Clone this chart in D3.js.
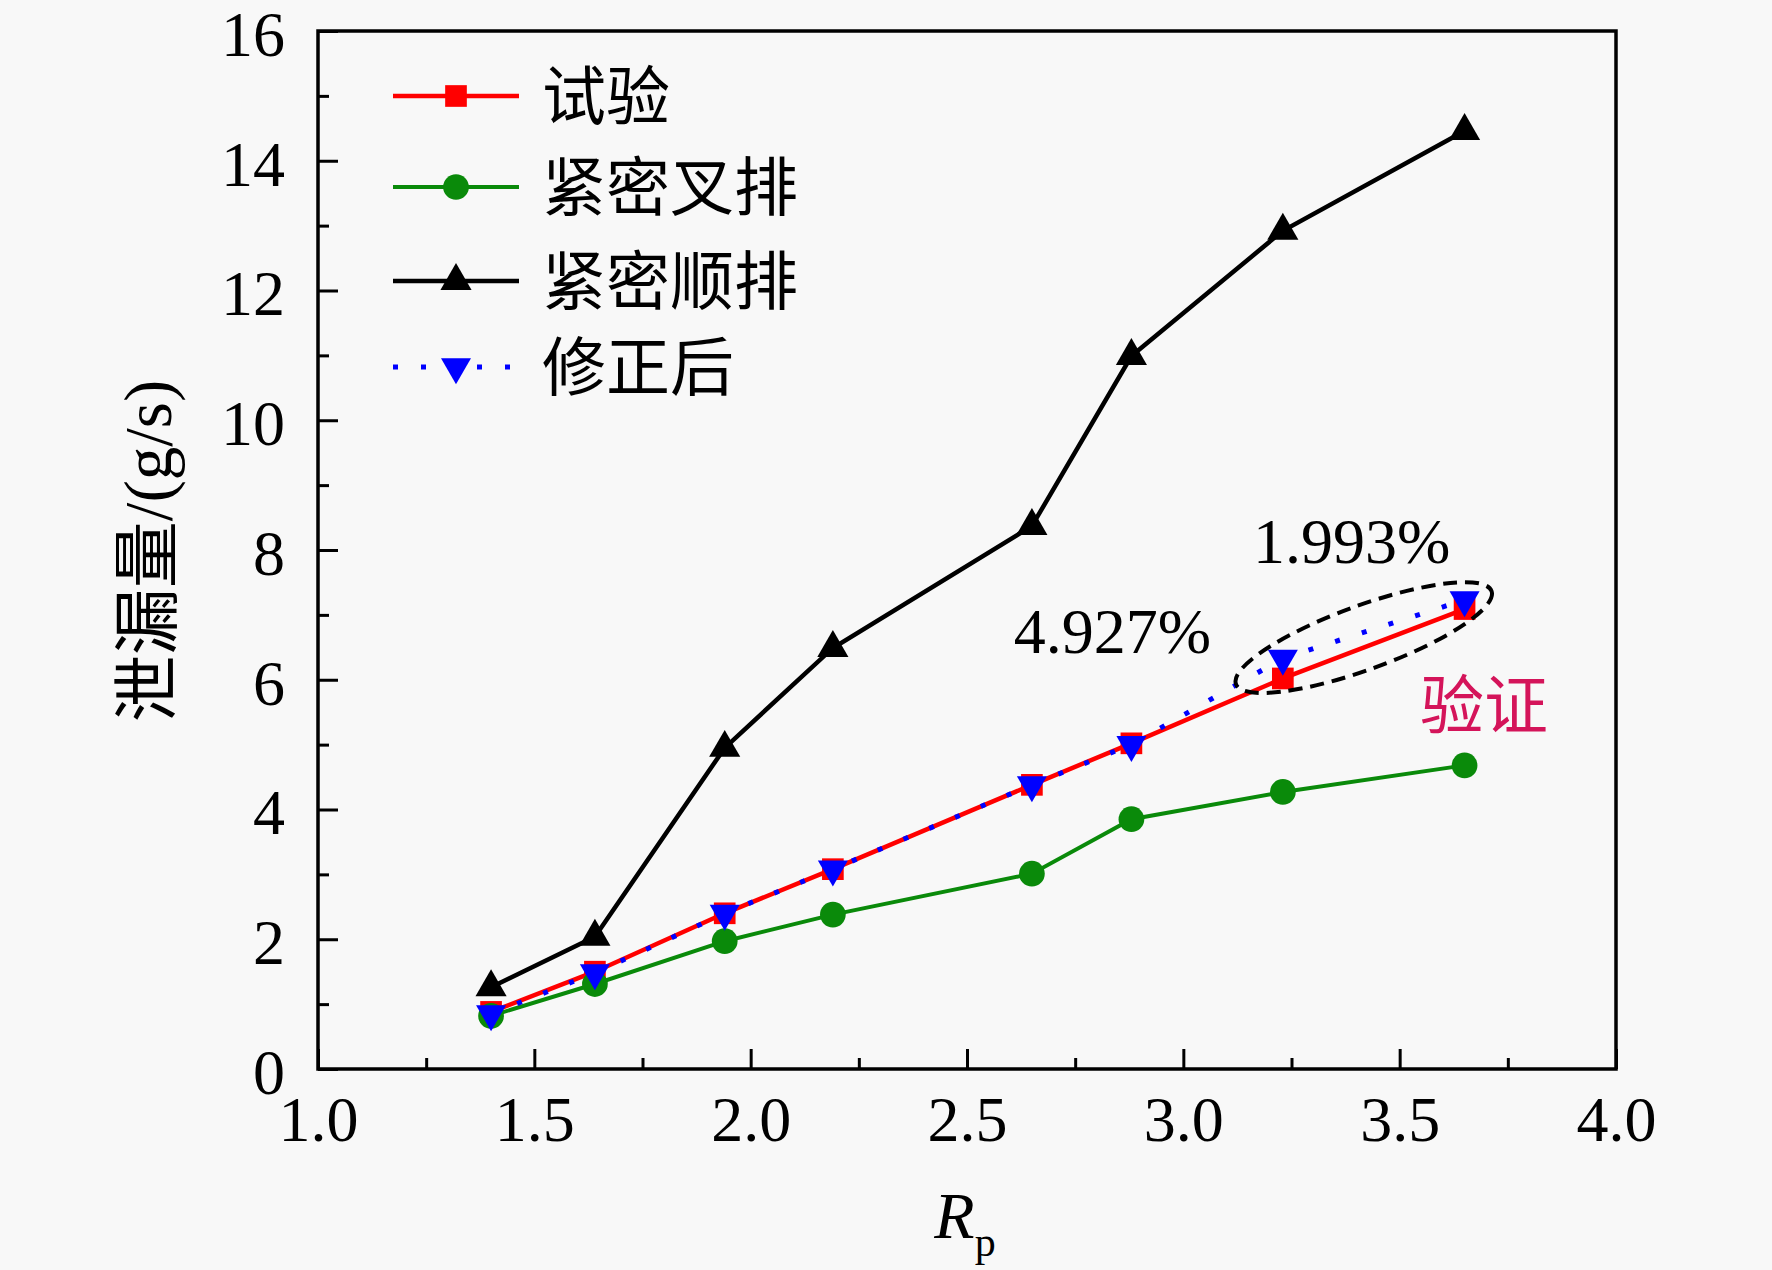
<!DOCTYPE html>
<html>
<head>
<meta charset="utf-8">
<script src="https://cdn.jsdelivr.net/npm/d3@7/dist/d3.min.js"></script>
<style>
  html, body { margin: 0; padding: 0; background: #f8f8f8; }
  svg { display: block; }
  text { font-family: "Liberation Serif", "Noto Sans CJK SC", serif; fill: #000; }
</style>
</head>
<body>
<svg id="chart" width="1772" height="1270"></svg>
<script>
// ---- data ----
const rp = [1.40, 1.64, 1.94, 2.19, 2.65, 2.88, 3.23, 3.65];
const shiyan = [0.88, 1.50, 2.40, 3.08, 4.38, 5.02, 6.02, 7.09];     // 试验
const jinmiChapai = [0.82, 1.31, 1.97, 2.38, 3.01, 3.85, 4.27, 4.68]; // 紧密叉排
const jinmiShunpai = [1.26, 2.04, 4.95, 6.49, 8.37, 10.99, 12.92, 14.46]; // 紧密顺排
const xiuzhenghou = [0.85, 1.48, 2.40, 3.08, 4.38, 5.00, 6.33, 7.23]; // 修正后
const seriesNames = ["试验", "紧密叉排", "紧密顺排", "修正后"];
const xTicks = [1.0, 1.5, 2.0, 2.5, 3.0, 3.5, 4.0];
const xMinor = [1.25, 1.75, 2.25, 2.75, 3.25, 3.75];
const yTicks = [0, 2, 4, 6, 8, 10, 12, 14, 16];
const yMinor = [1, 3, 5, 7, 9, 11, 13, 15];
const annoLabels = ["4.927%", "1.993%", "验证"];
const annoX = [2.608, 3.161, 3.547];
const annoY = [6.41, 7.80, 5.26];
const ellipseCenter = [3.417, 6.65];

// ---- layout ----
const svg = d3.select("#chart");
const L = 318, R = 1616, T = 31, B = 1069;
const x = d3.scaleLinear().domain([1, 4]).range([L, R]);
const y = d3.scaleLinear().domain([0, 16]).range([B, T]);

svg.append("rect").attr("width", 1772).attr("height", 1270).attr("fill", "#f8f8f8");

const FS = 64;

// axes (ticks inward)
const gx = svg.append("g").attr("transform", `translate(0,${B})`)
  .call(d3.axisBottom(x).tickValues(xTicks).tickSize(-20).tickFormat(d3.format(".1f")));
gx.select(".domain").remove();
gx.selectAll("line").attr("stroke", "#000").attr("stroke-width", 3);
gx.selectAll("text").attr("y", 72).attr("dy", 0).style("font-size", FS + "px");

const gxm = svg.append("g").attr("transform", `translate(0,${B})`)
  .call(d3.axisBottom(x).tickValues(xMinor).tickSize(-11).tickFormat(""));
gxm.select(".domain").remove();
gxm.selectAll("line").attr("stroke", "#000").attr("stroke-width", 3);

const gy = svg.append("g").attr("transform", `translate(${L},0)`)
  .call(d3.axisLeft(y).tickValues(yTicks).tickSize(-20).tickFormat(d3.format("d")));
gy.select(".domain").remove();
gy.selectAll("line").attr("stroke", "#000").attr("stroke-width", 3);
gy.selectAll("text").attr("x", -33).attr("dy", "0.38em").style("font-size", FS + "px");

const gym = svg.append("g").attr("transform", `translate(${L},0)`)
  .call(d3.axisLeft(y).tickValues(yMinor).tickSize(-11).tickFormat(""));
gym.select(".domain").remove();
gym.selectAll("line").attr("stroke", "#000").attr("stroke-width", 3);

// frame
svg.append("rect").attr("x", L).attr("y", T).attr("width", R - L).attr("height", B - T)
  .attr("fill", "none").attr("stroke", "#000").attr("stroke-width", 3.5);

// axis titles
svg.append("text")
  .attr("transform", `translate(148,551) rotate(-90)`)
  .attr("text-anchor", "middle").attr("dominant-baseline", "central")
  .style("font-size", "67px").text("泄漏量/(g/s)");

const xt = svg.append("text").attr("x", (L + R) / 2 - 2).attr("y", 1238)
  .attr("text-anchor", "middle").style("font-size", "66px");
xt.append("tspan").attr("font-style", "italic").text("R");
xt.append("tspan").attr("dy", 18).style("font-size", "42px").text("p");

// series
const series = [
  { name: seriesNames[0], vals: shiyan, color: "#ff0000", sym: d3.symbolSquare, size: 470, rot: 0, dash: null, w: 4.5 },
  { name: seriesNames[1], vals: jinmiChapai, color: "#0a8a0a", sym: d3.symbolCircle, size: 520, rot: 0, dash: null, w: 4 },
  { name: seriesNames[2], vals: jinmiShunpai, color: "#000000", sym: d3.symbolTriangle, size: 420, rot: 0, dash: null, w: 4.5 },
  { name: seriesNames[3], vals: xiuzhenghou, color: "#0000ff", sym: d3.symbolTriangle, size: 390, rot: 180, dash: "5,23", w: 5 }
];

const line = d3.line().x(d => x(d[0])).y(d => y(d[1]));

series.forEach(s => {
  const pts = rp.map((v, i) => [v, s.vals[i]]);
  const g = svg.append("g");
  g.append("path").attr("d", line(pts)).attr("fill", "none")
    .attr("stroke", s.color).attr("stroke-width", s.w)
    .attr("stroke-dasharray", s.dash);
  g.selectAll("path.m").data(pts).join("path").attr("class", "m")
    .attr("d", d3.symbol().type(s.sym).size(s.size))
    .attr("transform", d => `translate(${x(d[0])},${y(d[1])}) rotate(${s.rot})`)
    .attr("fill", s.color);
});

// ellipse annotation
svg.append("ellipse")
  .attr("transform", `translate(${x(ellipseCenter[0])},${y(ellipseCenter[1])}) rotate(-20)`)
  .attr("rx", 136).attr("ry", 32)
  .attr("fill", "none").attr("stroke", "#000").attr("stroke-width", 4)
  .attr("stroke-dasharray", "14,8");

annoLabels.forEach((t, i) => {
  svg.append("text").attr("x", x(annoX[i])).attr("y", y(annoY[i]))
    .style("font-size", FS + "px")
    .style("fill", i === 2 ? "#d4145a" : "#000")
    .text(t);
});

// legend
const legY = [96, 187, 281, 367];
series.forEach((s, i) => {
  const g = svg.append("g");
  g.append("line").attr("x1", 393).attr("x2", 519).attr("y1", legY[i]).attr("y2", legY[i])
    .attr("stroke", s.color).attr("stroke-width", s.w).attr("stroke-dasharray", s.dash);
  g.append("path").attr("d", d3.symbol().type(s.sym).size(s.size))
    .attr("transform", `translate(456,${legY[i]}) rotate(${s.rot})`).attr("fill", s.color);
  g.append("text").attr("x", 542).attr("y", legY[i]).attr("dy", "0.36em")
    .style("font-size", FS + "px").text(s.name);
});
</script>
</body>
</html>
